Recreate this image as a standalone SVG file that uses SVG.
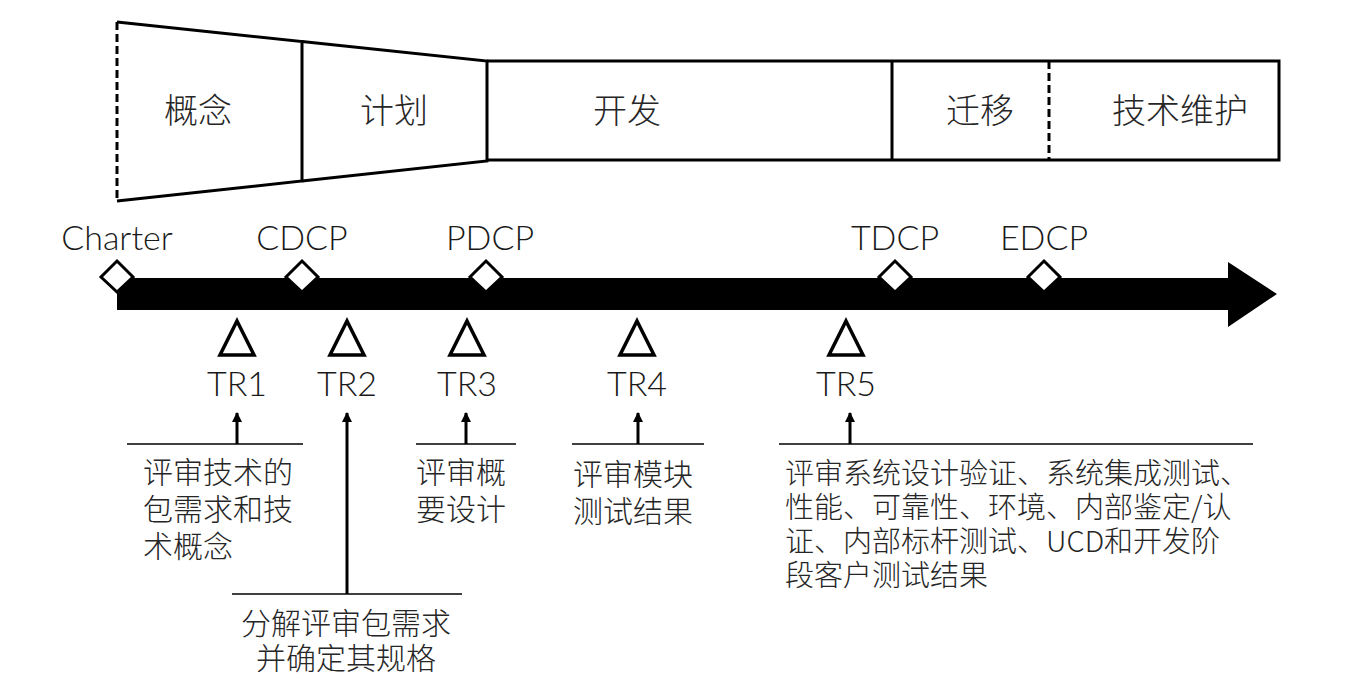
<svg xmlns="http://www.w3.org/2000/svg" width="1363" height="689" viewBox="0 0 1363 689">
  <style>
    .edge { fill: none; stroke: #000; stroke-width: 3; }
    .dash { fill: none; stroke: #000; stroke-width: 3; stroke-dasharray: 8 4; }
    .cjk { font-family: "Noto Sans CJK SC Light", "Noto Sans CJK SC DemiLight", "Noto Sans CJK SC", sans-serif; font-weight: 300; fill: #262626; }
    .lat { font-family: "Lato Light", Lato, "Open Sans", sans-serif; font-weight: 300; fill: #1a1a1a; }
    .phase { font-size: 34px; text-anchor: middle; }
    .gate { font-size: 34px; text-anchor: middle; }
    .tr { font-size: 34px; text-anchor: middle; }
    .note { font-size: 30px; }
    .diamond { fill: #fff; stroke: #000; stroke-width: 3; }
    .tri { fill: #fff; stroke: #000; stroke-width: 3.5; stroke-linejoin: miter; }
    .rule { stroke: #000; stroke-width: 1.3; }
    .lead { stroke: #000; stroke-width: 3; }
  </style>
  <defs>
    <marker id="head" viewBox="0 0 10 10" refX="9" refY="5" markerWidth="10" markerHeight="10" markerUnits="userSpaceOnUse" orient="auto">
      <path d="M0,0 L10,5 L0,10 z" fill="#000"/>
    </marker>
  </defs>
  <rect width="1363" height="689" fill="#fff"/>

  <!-- phase band -->
  <g id="phases">
    <g id="phase-concept">
      <path class="edge" d="M117,22 L302,41.5 L302,181 L117,201"/>
      <line class="dash" x1="117" y1="22" x2="117" y2="201"/>
      <text class="cjk phase" x="198" y="123">概念</text>
    </g>
    <g id="phase-plan">
      <path class="edge" d="M302,41.5 L487,61 L487,161 L302,181"/>
      <text class="cjk phase" x="394" y="123">计划</text>
    </g>
    <g id="phase-develop">
      <path class="edge" d="M487,61 L892,61 M487,160 L892,160"/>
      <text class="cjk phase" x="627" y="123">开发</text>
    </g>
    <g id="phase-migrate">
      <path class="edge" d="M892,61 L892,160 M892,61 L1049,61 M892,160 L1049,160"/>
      <text class="cjk phase" x="980" y="123">迁移</text>
    </g>
    <g id="phase-maintain">
      <path class="edge" d="M1049,61 L1279,61 L1279,160 L1049,160"/>
      <line class="dash" x1="1049" y1="61" x2="1049" y2="160"/>
      <text class="cjk phase" x="1180" y="123">技术维护</text>
    </g>
  </g>

  <!-- timeline -->
  <g id="timeline">
    <path d="M117,278 L1228,278 L1228,262 L1277,294 L1228,327 L1228,310 L117,310 z" fill="#000"/>
  </g>

  <!-- decision checkpoints -->
  <g id="gate-charter">
    <path class="diamond" d="M117,261 L133,277 L117,292 L101,277 z"/>
    <text class="lat gate" x="117" y="250">Charter</text>
  </g>
  <g id="gate-cdcp">
    <path class="diamond" d="M302,261 L318,277 L302,292 L286,277 z"/>
    <text class="lat gate" x="302" y="250">CDCP</text>
  </g>
  <g id="gate-pdcp">
    <path class="diamond" d="M486,261 L502,277 L486,292 L470,277 z"/>
    <text class="lat gate" x="490" y="250">PDCP</text>
  </g>
  <g id="gate-tdcp">
    <path class="diamond" d="M895,261 L911,277 L895,292 L879,277 z"/>
    <text class="lat gate" x="895" y="250">TDCP</text>
  </g>
  <g id="gate-edcp">
    <path class="diamond" d="M1044,261 L1060,277 L1044,292 L1028,277 z"/>
    <text class="lat gate" x="1044" y="250">EDCP</text>
  </g>

  <!-- technical reviews -->
  <g id="tr1">
    <path class="tri" d="M237,321 L254,355 L220,355 z"/>
    <text class="lat tr" x="237" y="396">TR1</text>
    <line class="rule" x1="127" y1="444" x2="303" y2="444"/>
    <text class="cjk note"><tspan x="143" y="483">评审技术的</tspan><tspan x="143" y="520">包需求和技</tspan><tspan x="143" y="557">术概念</tspan></text>
  </g>
  <g id="tr2">
    <path class="tri" d="M347,321 L364,355 L330,355 z"/>
    <text class="lat tr" x="347" y="396">TR2</text>
    <line class="rule" x1="232" y1="594" x2="462" y2="594"/>
    <text class="cjk note" text-anchor="middle"><tspan x="346" y="634">分解评审包需求</tspan><tspan x="346" y="669">并确定其规格</tspan></text>
  </g>
  <g id="tr3">
    <path class="tri" d="M467,321 L484,355 L450,355 z"/>
    <text class="lat tr" x="467" y="396">TR3</text>
    <line class="rule" x1="416" y1="444" x2="516" y2="444"/>
    <text class="cjk note"><tspan x="416" y="483">评审概</tspan><tspan x="416" y="520">要设计</tspan></text>
  </g>
  <g id="tr4">
    <path class="tri" d="M637,321 L654,355 L620,355 z"/>
    <text class="lat tr" x="637" y="396">TR4</text>
    <line class="rule" x1="572" y1="444" x2="704" y2="444"/>
    <text class="cjk note"><tspan x="573" y="485">评审模块</tspan><tspan x="573" y="522">测试结果</tspan></text>
  </g>
  <g id="tr5">
    <path class="tri" d="M846,321 L863,355 L829,355 z"/>
    <text class="lat tr" x="846" y="396">TR5</text>
    <line class="rule" x1="779" y1="444" x2="1253" y2="444"/>
    <text class="cjk note" style="font-size:29px"><tspan x="785" y="484">评审系统设计验证、系统集成测试、</tspan><tspan x="785" y="518">性能、可靠性、环境、内部鉴定/认</tspan><tspan x="785" y="552">证、内部标杆测试、UCD和开发阶</tspan><tspan x="785" y="586">段客户测试结果</tspan></text>
  </g>

  <!-- review leaders -->
  <g id="connectors">
    <line class="lead" x1="237" y1="444" x2="237" y2="413" marker-end="url(#head)"/>
    <line class="lead" x1="347" y1="594" x2="347" y2="413" marker-end="url(#head)"/>
    <line class="lead" x1="466" y1="444" x2="466" y2="413" marker-end="url(#head)"/>
    <line class="lead" x1="638" y1="444" x2="638" y2="413" marker-end="url(#head)"/>
    <line class="lead" x1="850" y1="444" x2="850" y2="413" marker-end="url(#head)"/>
  </g>
</svg>
